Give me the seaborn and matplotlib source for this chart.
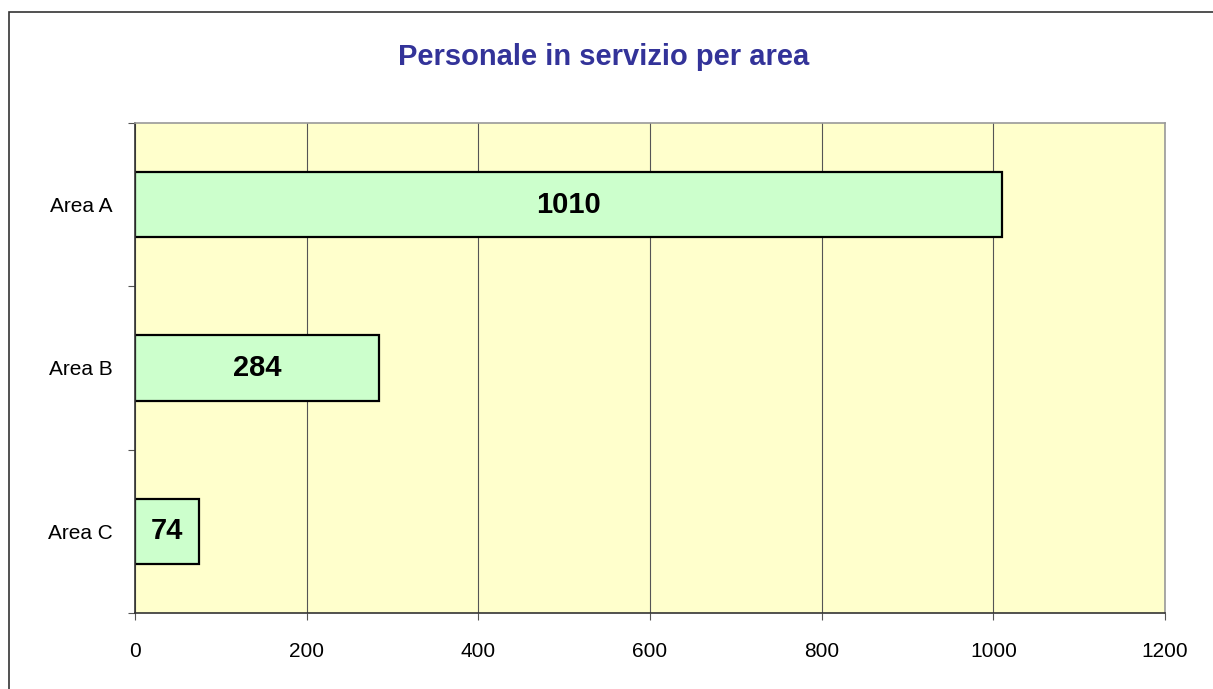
import matplotlib
matplotlib.use('Agg')
import matplotlib.pyplot as plt
import seaborn as sns
import pandas as pd
from matplotlib.patches import Rectangle
from matplotlib.ticker import FixedLocator

# Dati
aree = ['Area A', 'Area B', 'Area C']
personale = [1010, 284, 74]
x_ticks = [0, 200, 400, 600, 800, 1000, 1200]

df = pd.DataFrame({'area': aree, 'personale': personale})

sns.set_theme(style='white')
plt.rcParams['font.family'] = ['Liberation Sans', 'DejaVu Sans']

fig = plt.figure(figsize=(12.13, 6.89), dpi=100)
ax = fig.add_axes([135 / 1213, 1 - 613 / 689, 1030 / 1213, 490 / 689])

sns.barplot(data=df, x='personale', y='area', orient='h', width=0.4,
            color='#CCFFCC', edgecolor='black', linewidth=1.6, saturation=1, ax=ax)

ax.set_facecolor('#FFFFCC')
ax.set_xlim(0, 1200)
ax.set_ylim(len(aree) - 0.5, -0.5)
ax.set_xticks(x_ticks)
ax.set_xticklabels([str(t) for t in x_ticks])
ax.set_xlabel('')
ax.set_ylabel('')

# griglia verticale
ax.grid(axis='x', color='#555555', linewidth=0.8)
ax.set_axisbelow(True)

# tacche dell'asse y ai confini delle categorie
ax.yaxis.set_minor_locator(FixedLocator([-0.5, 0.5, 1.5, 2.5]))
ax.tick_params(axis='y', which='major', length=0, pad=16, labelsize=15, colors='black')
ax.tick_params(axis='y', which='minor', left=True, length=5, width=0.8, color='#555555')
ax.tick_params(axis='x', which='major', bottom=True, length=5, width=0.8, color='#555555',
               pad=16, labelsize=15, labelcolor='black')

for side in ['left', 'bottom']:
    ax.spines[side].set_color('#333333')
    ax.spines[side].set_linewidth(1.2)
for side in ['top', 'right']:
    ax.spines[side].set_color('#999999')
    ax.spines[side].set_linewidth(1.2)

# etichette dei valori al centro delle barre
for cont in ax.containers:
    ax.bar_label(cont, labels=[str(v) for v in personale], label_type='center',
                 fontsize=21, fontweight='bold', color='black')

fig.text(604 / 1213, 1 - 57 / 689, 'Personale in servizio per area', ha='center', va='center',
         fontsize=21, fontweight='bold', color='#333399')

# cornice del grafico
fig.patches.append(Rectangle((9 / 1213, -0.1), 1.2, 1 - 12 / 689 + 0.1, transform=fig.transFigure,
                             fill=False, edgecolor='#333333', linewidth=1.2, clip_on=False))

fig.savefig('out.png', dpi=100)
